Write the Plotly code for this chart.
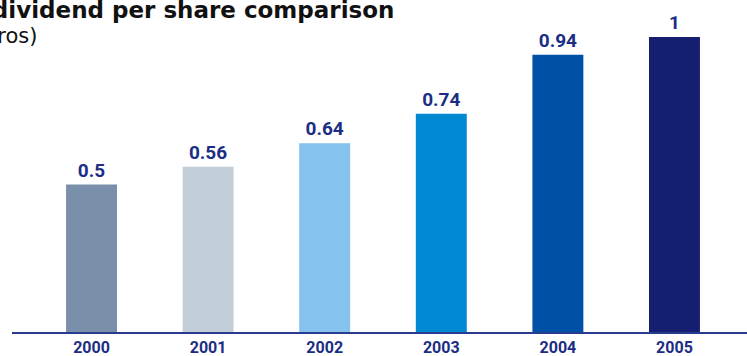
import plotly.graph_objects as go

years = ["2000", "2001", "2002", "2003", "2004", "2005"]
dividends = [0.5, 0.56, 0.64, 0.74, 0.94, 1]
labels = ["0.5", "0.56", "0.64", "0.74", "0.94", "1"]
colors = ["#7a8fa9", "#c3cedb", "#86c2ee", "#0088d2", "#0050a8", "#151f6f"]

W, H = 747, 356
ml, mr, mt, mb = 12, 0, 0, 24
pw = W - ml - mr
navy = "#1b2d84"
cond = "Roboto, sans-serif"

fig = go.Figure(go.Bar(
    x=years, y=dividends, text=labels, textposition="outside",
    marker=dict(color=colors, line=dict(width=0)),
    textfont=dict(family=cond, size=19, color=navy, weight="bold"),
    cliponaxis=False,
))

fig.update_layout(
    width=W, height=H, margin=dict(l=ml, r=mr, t=mt, b=mb),
    paper_bgcolor="white", plot_bgcolor="white",
    bargap=0.563, showlegend=False,
    xaxis=dict(type="category", range=[-0.682, 5.622], showline=True, linecolor="#2a3a8e", linewidth=2,
               showgrid=False, ticks="", zeroline=False,
               tickfont=dict(family=cond, size=16, color=navy, weight="bold")),
    yaxis=dict(range=[0, 1.1254], visible=False, showgrid=False, zeroline=False),
)

def px(x):
    return (x - ml) / pw

fig.add_annotation(text="<b>Net dividend per share comparison</b>", xref="paper", yref="paper",
                   x=px(396), y=1, xanchor="right", yanchor="top", showarrow=False,
                   yshift=5,
                   font=dict(family="DejaVu Sans, sans-serif", size=23, color="#111111"))
fig.add_annotation(text="(in euros)", xref="paper", yref="paper",
                   x=px(39), y=1, xanchor="right", yanchor="top", showarrow=False,
                   yshift=-22,
                   font=dict(family="DejaVu Sans, sans-serif", size=21, color="#111111"))

fig.write_html("out.html")
